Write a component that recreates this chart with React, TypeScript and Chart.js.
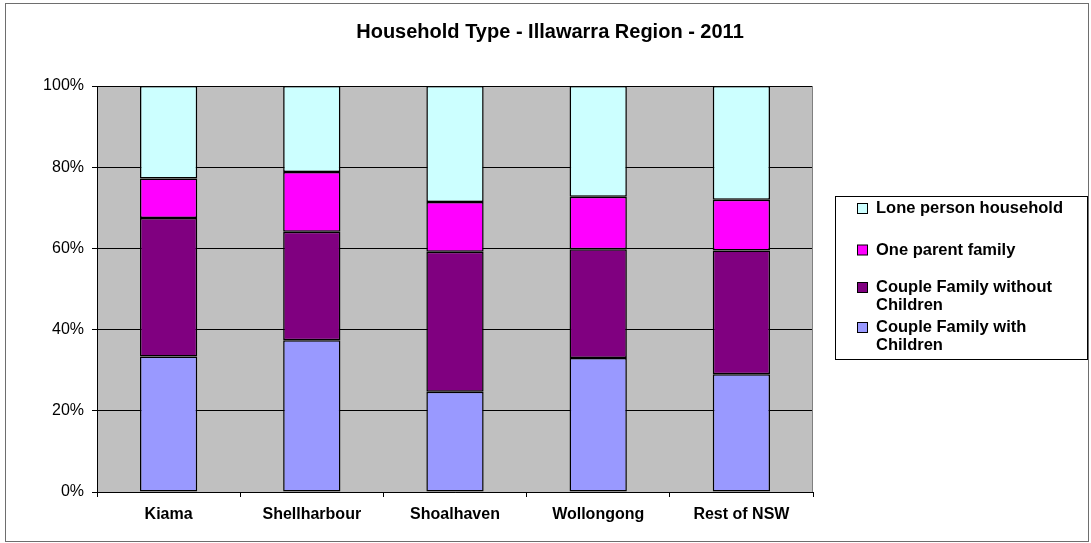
import React, { useEffect, useRef } from 'react';
import { Chart, registerables } from 'chart.js';

Chart.register(...registerables);

const chartTitle = 'Household Type - Illawarra Region - 2011';
const categories = ['Kiama', 'Shellharbour', 'Shoalhaven', 'Wollongong', 'Rest of NSW'];
const coupleWithChildren = [33.4, 37.4, 24.7, 33.0, 29.0];
const coupleWithoutChildren = [34.1, 26.7, 34.5, 26.8, 30.5];
const oneParentFamily = [9.7, 14.7, 12.2, 12.9, 12.5];
const lonePersonHousehold = [22.8, 21.2, 28.6, 27.3, 28.0];
const seriesLabels = [
  'Couple Family with Children',
  'Couple Family without Children',
  'One parent family',
  'Lone person household',
];
const seriesColors = ['#9999FF', '#800080', '#FF00FF', '#CCFFFF'];
const yTickValues = [0, 20, 40, 60, 80, 100];

const FONT = "Arial, 'Liberation Sans', sans-serif";

function wrapText(ctx: CanvasRenderingContext2D, text: string, maxW: number): string[] {
  const words = text.split(' ');
  const lines: string[] = [];
  let cur = '';
  for (const w of words) {
    const t = cur ? cur + ' ' + w : w;
    if (ctx.measureText(t).width > maxW && cur) {
      lines.push(cur);
      cur = w;
    } else {
      cur = t;
    }
  }
  if (cur) lines.push(cur);
  return lines;
}

const decorPlugin = {
  id: 'decor',
  beforeDraw(chart: any) {
    const { ctx, chartArea: a } = chart;
    ctx.save();
    ctx.fillStyle = '#ffffff';
    ctx.fillRect(0, 0, chart.width, chart.height);
    ctx.fillStyle = '#C0C0C0';
    ctx.fillRect(a.left, a.top, a.right - a.left, a.bottom - a.top);
    ctx.restore();
  },
  afterDraw(chart: any) {
    const { ctx, chartArea: a } = chart;
    ctx.save();
    // plot area right edge
    ctx.strokeStyle = '#808080';
    ctx.lineWidth = 1;
    ctx.beginPath();
    ctx.moveTo(Math.round(a.right) - 0.5, a.top);
    ctx.lineTo(Math.round(a.right) - 0.5, a.bottom);
    ctx.stroke();

    // outer border
    ctx.strokeStyle = '#6e6e6e';
    ctx.strokeRect(5.5, 3.5, 1083, 538);

    // title
    ctx.fillStyle = '#000';
    ctx.font = `bold 20px ${FONT}`;
    ctx.textAlign = 'center';
    ctx.textBaseline = 'middle';
    ctx.fillText(chartTitle, 550, 32);

    // legend
    const bx = 835.5, by = 196.5, bw = 252, bh = 163;
    ctx.fillStyle = '#fff';
    ctx.fillRect(bx, by, bw, bh);
    ctx.strokeStyle = '#000';
    ctx.strokeRect(bx, by, bw, bh);
    ctx.font = `bold 16.5px ${FONT}`;
    ctx.textAlign = 'left';
    const centers = [208.5, 250, 287.5, 327.5];
    const ds = chart.data.datasets;
    const order = ds.map((_: any, i: number) => i).reverse();
    order.forEach((di: number, k: number) => {
      const d = ds[di];
      const cy = centers[k];
      ctx.fillStyle = d.backgroundColor;
      ctx.fillRect(857.5, cy - 5, 10, 10);
      ctx.strokeStyle = '#000';
      ctx.strokeRect(857.5, cy - 5, 10, 10);
      ctx.fillStyle = '#000';
      const lines = wrapText(ctx, d.label, 200);
      lines.forEach((ln, li) => ctx.fillText(ln, 876, cy + li * 18));
    });
    ctx.restore();
  },
};

export default function App() {
  const ref = useRef<HTMLCanvasElement>(null);
  useEffect(() => {
    if (!ref.current) return;
    const series = [coupleWithChildren, coupleWithoutChildren, oneParentFamily, lonePersonHousehold];
    const chart = new Chart(ref.current, {
      type: 'bar',
      data: {
        labels: categories,
        datasets: series.map((vals, i) => ({
          label: seriesLabels[i],
          data: vals,
          backgroundColor: seriesColors[i],
          borderColor: '#000000',
          borderWidth: 1.5,
          borderSkipped: false,
          categoryPercentage: 1,
          barPercentage: 0.4,
        })),
      },
      options: {
        animation: false,
        responsive: true,
        maintainAspectRatio: false,
        layout: { padding: { left: 0, top: 86, right: 278, bottom: 0 } },
        plugins: {
          legend: { display: false },
          title: { display: false },
          tooltip: { enabled: false },
        },
        scales: {
          x: {
            stacked: true,
            grid: {
              display: true,
              drawOnChartArea: false,
              drawTicks: true,
              tickLength: 5,
              color: '#000',
              offset: true,
            },
            border: { color: '#000', width: 1 },
            ticks: {
              color: '#000',
              font: { family: FONT, size: 16, weight: 'bold' },
              padding: 8,
              maxRotation: 0,
              autoSkip: false,
            },
            afterFit: (s: any) => {
              s.height = 51;
            },
          },
          y: {
            stacked: true,
            min: 0,
            max: 100,
            afterBuildTicks: (s: any) => {
              s.ticks = yTickValues.map((v) => ({ value: v }));
            },
            ticks: {
              color: '#000',
              font: { family: FONT, size: 16 },
              padding: 8,
              callback: (v: any) => v + '%',
            },
            grid: { color: '#000', lineWidth: 1, tickLength: 5, drawTicks: true },
            border: { color: '#000', width: 1 },
            afterFit: (s: any) => {
              s.width = 97;
            },
          },
        },
      },
      plugins: [decorPlugin],
    });
    return () => chart.destroy();
  }, []);
  return (
    <div style={{ position: 'fixed', left: 0, top: 0, width: 1091, height: 543, background: '#fff' }}>
      <canvas ref={ref} />
    </div>
  );
}
